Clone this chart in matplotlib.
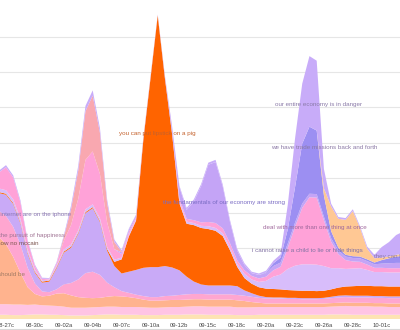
import matplotlib
matplotlib.use('Agg')
import matplotlib.pyplot as plt
import numpy as np

# sample index along the time axis (3 readings a day, ticks every 4 samples)
samples = np.arange(-1, 56)
tick_samples = [0, 4, 8, 12, 16, 20, 24, 28, 32, 36, 40, 44, 48, 52]
tick_labels = ['08-27c', '08-30c', '09-02a', '09-04b', '09-07c', '09-10a', '09-12b',
               '09-15c', '09-18c', '09-20a', '09-23c', '09-26a', '09-28c', '10-01c']

# layer thicknesses, bottom to top
pale_base = [0.12, 0.12, 0.11, 0.11, 0.12, 0.13, 0.13, 0.12, 0.12, 0.11,
             0.10, 0.10, 0.10, 0.11, 0.12, 0.13, 0.13, 0.12, 0.12, 0.12,
             0.11, 0.11, 0.11, 0.12, 0.12, 0.12, 0.13, 0.13, 0.13, 0.12,
             0.12, 0.12, 0.12, 0.11, 0.11, 0.11, 0.12, 0.12, 0.12, 0.12,
             0.12, 0.12, 0.12, 0.12, 0.12, 0.12, 0.13, 0.13, 0.13, 0.12,
             0.12, 0.12, 0.12, 0.12, 0.12, 0.12, 0.12]
pink_base = [0.30, 0.30, 0.30, 0.30, 0.28, 0.28, 0.26, 0.26, 0.25, 0.24,
             0.22, 0.22, 0.22, 0.22, 0.22, 0.22, 0.22, 0.22, 0.22, 0.22,
             0.22, 0.21, 0.21, 0.21, 0.22, 0.22, 0.22, 0.23, 0.23, 0.23,
             0.23, 0.23, 0.23, 0.22, 0.22, 0.22, 0.22, 0.22, 0.22, 0.22,
             0.22, 0.22, 0.22, 0.22, 0.22, 0.22, 0.22, 0.23, 0.24, 0.24,
             0.24, 0.24, 0.23, 0.23, 0.22, 0.22, 0.22]
should_be = [1.90, 1.70, 1.35, 0.90, 0.50, 0.30, 0.25, 0.28, 0.35, 0.38,
             0.35, 0.30, 0.28, 0.26, 0.26, 0.28, 0.30, 0.30, 0.28, 0.25,
             0.22, 0.20, 0.20, 0.20, 0.20, 0.20, 0.20, 0.20, 0.20, 0.20,
             0.20, 0.20, 0.20, 0.20, 0.18, 0.15, 0.12, 0.10, 0.10, 0.10,
             0.10, 0.10, 0.10, 0.10, 0.10, 0.10, 0.10, 0.10, 0.10, 0.10,
             0.10, 0.10, 0.10, 0.10, 0.10, 0.10, 0.10]
mccain = [0.75, 0.80, 0.85, 0.80, 0.55, 0.30, 0.14, 0.10, 0.12, 0.25,
          0.35, 0.50, 0.70, 0.75, 0.65, 0.40, 0.25, 0.15, 0.12, 0.10,
          0.10, 0.10, 0.10, 0.12, 0.12, 0.14, 0.15, 0.15, 0.15, 0.15,
          0.15, 0.15, 0.15, 0.15, 0.15, 0.15, 0.14, 0.14, 0.14, 0.14,
          0.13, 0.13, 0.12, 0.12, 0.12, 0.13, 0.14, 0.15, 0.15, 0.15,
          0.15, 0.15, 0.15, 0.15, 0.15, 0.15, 0.15]
iphone = [0.50, 0.60, 0.65, 0.60, 0.40, 0.30, 0.25, 0.30, 0.60, 0.90,
          1.00, 1.30, 1.70, 1.80, 1.50, 0.90, 0.60, 0.50, 0.60, 0.70,
          0.80, 0.85, 0.85, 0.85, 0.80, 0.70, 0.50, 0.35, 0.27, 0.25,
          0.25, 0.25, 0.25, 0.25, 0.15, 0.10, 0.06, 0.04, 0.03, 0.03,
          0.03, 0.03, 0.03, 0.03, 0.03, 0.03, 0.04, 0.05, 0.05, 0.05,
          0.05, 0.05, 0.05, 0.05, 0.05, 0.05, 0.05]
lipstick = [0.03, 0.03, 0.03, 0.03, 0.03, 0.03, 0.03, 0.03, 0.03, 0.03,
            0.03, 0.03, 0.03, 0.03, 0.03, 0.05, 0.12, 0.40, 1.00, 1.40,
            3.61, 5.35, 7.13, 5.31, 3.76, 1.90, 1.50, 1.60, 1.60, 1.60,
            1.55, 1.40, 1.00, 0.55, 0.35, 0.27, 0.24, 0.24, 0.24, 0.23,
            0.22, 0.21, 0.21, 0.21, 0.20, 0.20, 0.21, 0.23, 0.25, 0.27,
            0.28, 0.28, 0.28, 0.28, 0.28, 0.28, 0.28]
raise_child = [0.10, 0.10, 0.10, 0.10, 0.08, 0.06, 0.04, 0.03, 0.04, 0.06,
               0.06, 0.06, 0.08, 0.08, 0.08, 0.06, 0.06, 0.05, 0.05, 0.04,
               0.02, 0.02, 0.01, 0.02, 0.03, 0.06, 0.06, 0.06, 0.06, 0.08,
               0.08, 0.08, 0.08, 0.08, 0.12, 0.12, 0.15, 0.22, 0.35, 0.42,
               0.60, 0.70, 0.75, 0.75, 0.75, 0.70, 0.60, 0.55, 0.50, 0.50,
               0.50, 0.45, 0.40, 0.40, 0.40, 0.40, 0.40]
one_thing = [0.45, 0.65, 0.62, 0.46, 0.24, 0.10, 0.04, 0.02, 0.06, 0.25,
             0.55, 0.90, 1.40, 1.50, 1.25, 0.70, 0.30, 0.10, 0.08, 0.06,
             0.02, 0.02, 0.01, 0.02, 0.03, 0.08, 0.08, 0.08, 0.10, 0.12,
             0.14, 0.14, 0.12, 0.10, 0.10, 0.10, 0.10, 0.12, 0.18, 0.22,
             0.60, 1.10, 1.60, 1.90, 1.90, 1.30, 0.75, 0.40, 0.25, 0.20,
             0.18, 0.15, 0.12, 0.12, 0.12, 0.12, 0.12]
fundamentals = [0.00, 0.00, 0.00, 0.00, 0.00, 0.00, 0.00, 0.00, 0.00, 0.00,
                0.00, 0.00, 0.00, 0.00, 0.00, 0.00, 0.00, 0.05, 0.06, 0.06,
                0.03, 0.02, 0.01, 0.04, 0.15, 0.32, 0.25, 0.53, 1.02, 1.62,
                1.73, 1.18, 0.60, 0.28, 0.15, 0.08, 0.10, 0.10, 0.12, 0.12,
                0.12, 0.12, 0.12, 0.10, 0.10, 0.10, 0.10, 0.10, 0.10, 0.10,
                0.10, 0.10, 0.10, 0.12, 0.14, 0.15, 0.15]
trade = [0.00, 0.00, 0.00, 0.00, 0.00, 0.00, 0.00, 0.00, 0.00, 0.00,
         0.00, 0.00, 0.00, 0.00, 0.00, 0.00, 0.00, 0.00, 0.00, 0.00,
         0.00, 0.00, 0.00, 0.00, 0.00, 0.00, 0.00, 0.00, 0.00, 0.00,
         0.00, 0.00, 0.00, 0.00, 0.00, 0.00, 0.00, 0.02, 0.08, 0.14,
         0.40, 1.00, 1.70, 1.90, 1.80, 0.60, 0.20, 0.08, 0.05, 0.05,
         0.05, 0.05, 0.05, 0.10, 0.14, 0.18, 0.20]
pit_bull = [0.00, 0.00, 0.00, 0.00, 0.00, 0.00, 0.00, 0.00, 0.00, 0.10,
            0.45, 0.80, 1.38, 1.58, 1.17, 0.54, 0.20, 0.02, 0.00, 0.00,
            0.00, 0.00, 0.00, 0.00, 0.00, 0.00, 0.00, 0.00, 0.00, 0.00,
            0.00, 0.00, 0.00, 0.00, 0.00, 0.00, 0.00, 0.00, 0.00, 0.00,
            0.00, 0.00, 0.00, 0.00, 0.00, 0.00, 0.00, 0.00, 0.00, 0.00,
            0.00, 0.00, 0.00, 0.00, 0.00, 0.00, 0.00]
bailout = [0.00, 0.00, 0.00, 0.00, 0.00, 0.00, 0.00, 0.00, 0.00, 0.00,
           0.00, 0.00, 0.00, 0.00, 0.00, 0.00, 0.00, 0.00, 0.00, 0.00,
           0.00, 0.00, 0.00, 0.00, 0.00, 0.00, 0.00, 0.00, 0.00, 0.00,
           0.00, 0.00, 0.00, 0.00, 0.00, 0.00, 0.00, 0.00, 0.00, 0.00,
           0.00, 0.00, 0.00, 0.00, 0.00, 0.20, 0.70, 0.82, 0.99, 1.28,
           0.81, 0.30, 0.12, 0.07, 0.05, 0.05, 0.05]
economy = [0.05, 0.06, 0.06, 0.06, 0.04, 0.04, 0.03, 0.02, 0.04, 0.05,
           0.10, 0.13, 0.15, 0.15, 0.13, 0.10, 0.07, 0.04, 0.03, 0.01,
           0.00, 0.00, 0.00, 0.00, 0.01, 0.04, 0.06, 0.06, 0.06, 0.06,
           0.06, 0.06, 0.06, 0.05, 0.05, 0.04, 0.04, 0.05, 0.07, 0.09,
           0.70, 1.38, 1.70, 2.00, 1.98, 0.55, 0.08, 0.05, 0.05, 0.05,
           0.05, 0.06, 0.10, 0.30, 0.41, 0.56, 0.64]

layers = [pale_base, pink_base, should_be, mccain, iphone, lipstick, raise_child,
          one_thing, fundamentals, trade, pit_bull, bailout, economy]
colors = ['#fde3b3', '#ffc4e4', '#ffb38e', '#ffa6d0', '#c9aaf7', '#ff6400', '#d8bdfb',
          '#ffa2d8', '#c4a4f6', '#9c8ff2', '#f9a8b0', '#ffc894', '#c8acf9']

# phrase labels: text, sample position, height, alignment, colour
labels = [
    ('you can put lipstick on a pig', 20.9, 5.27, 'center', '#c4622d'),
    ('the fundamentals of our economy are strong', 30.2, 3.31, 'center', '#7a6cc4'),
    ('our entire economy is in danger', 43.3, 6.09, 'center', '#8a7aa8'),
    ('we have trade missions back and forth', 44.0, 4.87, 'center', '#8c7aa6'),
    ('deal with more than one thing at once', 42.8, 2.58, 'center', '#a0689c'),
    ('i cannot raise a child to lie or hide things', 41.7, 1.93, 'center', '#8272a4'),
    ('they can lie', 50.9, 1.76, 'left', '#8a78a8'),
    ('the internet are on the iphone', 9.0, 2.95, 'right', '#8a76b4'),
    ('the pursuit of happiness', 8.17, 2.38, 'right', '#a07494'),
    ('know no mccain', 4.43, 2.15, 'right', '#7c5650'),
    ('should be', 2.63, 1.27, 'right', '#a07a64'),
]

plt.rcParams['font.family'] = ['Liberation Sans', 'DejaVu Sans']

fig = plt.figure(figsize=(4.0, 3.3), dpi=100)
ax = fig.add_axes([0, 11 / 330, 1, 319 / 330])

for level in range(1, 9):
    ax.axhline(level, color='#e6e6e6', lw=0.8, zorder=0)

ax.stackplot(samples, *layers, colors=colors, linewidth=0, zorder=1)

for text, xs, ys, ha, col in labels:
    ax.text(xs, ys, text, ha=ha, va='center', fontsize=4.5, color=col,
            clip_on=True, zorder=3)

ax.set_xlim(-0.83, 54.53)
ax.set_ylim(0, 9.04)
ax.set_xticks(tick_samples)
ax.set_xticklabels(tick_labels, fontsize=4.2, color='#444444')
ax.tick_params(axis='x', length=0, pad=3)
ax.set_yticks([])
for spine in ax.spines.values():
    spine.set_visible(False)

fig.add_artist(plt.Line2D([0, 1], [0.002, 0.002], color='#d8d8d8', lw=0.8))

fig.savefig('out.png', dpi=100)
